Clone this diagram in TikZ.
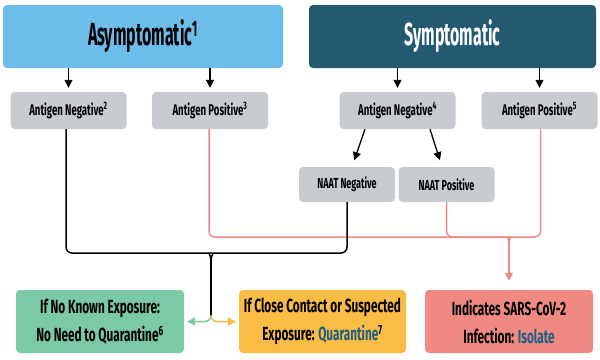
\documentclass[tikz,border=0pt]{standalone}
\usepackage{fontspec}
\setmainfont{Fira Sans}[FakeStretch=0.62]
\newfontfamily\titlefont{Fira Sans}[FakeStretch=0.5]
\usetikzlibrary{arrows.meta}
\definecolor{asymblue}{HTML}{6DBDEA}
\definecolor{sympteal}{HTML}{235A72}
\definecolor{testgray}{HTML}{C8CBCF}
\definecolor{safegreen}{HTML}{7BC9A5}
\definecolor{quaryellow}{HTML}{F9BC45}
\definecolor{isored}{HTML}{EF8982}
\definecolor{linkblue}{HTML}{1F5F86}

\begin{document}
\begin{tikzpicture}[x=1pt, y=-1pt, >={Triangle[width=8pt,length=8pt]}]
\tikzstyle{every node} = [rectangle, rounded corners=4pt, inner sep=0pt]
\tikzstyle{group} = [minimum height=63pt, font=\titlefont\bfseries\fontsize{32}{36}\selectfont]
\tikzstyle{test} = [fill=testgray, minimum width=116pt, minimum height=37pt, font=\bfseries\fontsize{15.5}{17}\selectfont]
\tikzstyle{naat} = [test, minimum width=96pt, minimum height=35pt, font=\bfseries\fontsize{14.5}{16}\selectfont]
\tikzstyle{outcome} = [minimum width=168pt, minimum height=63pt, align=center, font=\bfseries\fontsize{19}{28}\selectfont]
\tikzstyle{blk} = [line width=1.5pt, rounded corners=6pt]
\tikzstyle{salmon} = [isored, line width=1.5pt, rounded corners=6pt]
\useasboundingbox (0,0) rectangle (600,359);

% top groups
\node[group, fill=asymblue, minimum width=280pt] (asym) at (143, 36.5) {Asymptomatic\textsuperscript{1}};
\node[group, fill=sympteal, minimum width=287pt, text=white] (symp) at (452.5, 36.5) {Symptomatic};

% antigen tests
\node[test] (agneg1) at (68.5, 110.5) {Antigen Negative\textsuperscript{2}};
\node[test] (agpos1) at (210, 110.5) {Antigen Positive\textsuperscript{3}};
\node[test] (agneg2) at (397.5, 110.5) {Antigen Negative\textsuperscript{4}};
\node[test] (agpos2) at (539.5, 110.5) {Antigen Positive\textsuperscript{5}};

% NAAT
\node[naat] (naatneg) at (347, 184.5) {NAAT Negative};
\node[naat] (naatpos) at (446.5, 184.5) {NAAT Positive};

% outcomes
\node[outcome, fill=safegreen] (noexp) at (100, 321.5) {If No Known Exposure:\\No Need to Quarantine\textsuperscript{6}};
\node[outcome, fill=quaryellow, minimum width=167pt] (quar) at (322.5, 321.5) {If Close Contact or Suspected\\Exposure: \textcolor{linkblue}{Quarantine}\textsuperscript{7}};
\node[outcome, fill=isored] (isol) at (509, 321.5) {Indicates SARS-CoV-2\\Infection: \textcolor{linkblue}{Isolate}};

\coordinate (bj) at (211, 260);
\coordinate (split) at (211, 315.5);
\coordinate (rj) at (509, 243);

\foreach \from/\to in {asym/agneg1, asym/agpos1, symp/agneg2, symp/agpos2}
\draw [->, line width=1.3pt, shorten >=4pt] (\from.south -| \to) -- (\to.north);
\draw [->, line width=1.3pt, shorten >=7pt] ([xshift=-32.5pt]agneg2.south) -- ([xshift=5pt]naatneg.north);
\draw [->, line width=1.3pt, shorten >=7pt] ([xshift=32.5pt]agneg2.south) -- ([xshift=-4.5pt]naatpos.north);

% positive results
\draw [salmon] ([xshift=-1pt]agpos1.south) |- ([xshift=-6pt,yshift=6pt]rj) arc[start angle=90, end angle=0, radius=6pt];
\draw [salmon] (naatpos.south) |- ([xshift=-6pt,yshift=6pt]rj);
\draw [salmon] ([xshift=1pt]agpos2.south) |- ([xshift=6pt,yshift=6pt]rj) arc[start angle=90, end angle=180, radius=6pt];
\draw [salmon, ->, shorten >=9pt] (rj) -- (isol.north);

% negative results
\draw [blk] ([xshift=-2.5pt]agneg1.south) |- ([xshift=-7pt,yshift=7pt]bj) arc[start angle=90, end angle=0, radius=7pt];
\draw [blk] (naatneg.south) |- ([xshift=7pt,yshift=7pt]bj) arc[start angle=90, end angle=180, radius=7pt];
\draw [blk] (bj) -- (split);
\draw [safegreen, line width=1.5pt, ->, shorten >=3pt] (split) arc[start angle=0, end angle=-90, radius=6pt] -- (noexp.east);
\draw [quaryellow, line width=1.5pt, ->, shorten >=3pt] (split) arc[start angle=180, end angle=270, radius=6pt] -- (quar.west);
\end{tikzpicture}
\end{document}
